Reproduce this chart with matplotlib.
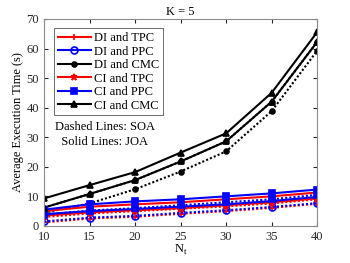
import numpy as np
import matplotlib
matplotlib.use('Agg')
import matplotlib.pyplot as plt

plt.rcParams['font.family'] = 'Liberation Serif'
plt.rcParams['font.size'] = 9

# x values: number of targets
nt = [10, 15, 20, 25, 30, 35, 40]

# JOA (solid lines)
di_tpc_joa = [3.5, 4.6, 5.3, 6.0, 7.0, 8.0, 9.3]
di_ppc_joa = [4.0, 5.0, 5.7, 6.5, 7.3, 8.4, 9.8]
di_cmc_joa = [6.2, 10.8, 15.5, 21.8, 28.6, 42.0, 62.2]
ci_tpc_joa = [5.0, 6.5, 7.3, 8.0, 9.0, 10.0, 11.3]
ci_ppc_joa = [5.5, 7.3, 8.3, 9.0, 10.0, 11.0, 12.3]
ci_cmc_joa = [9.3, 13.8, 18.2, 24.8, 31.3, 45.0, 65.5]

# SOA (dashed lines)
di_tpc_soa = [1.2, 2.5, 3.1, 4.1, 5.0, 6.1, 7.5]
di_ppc_soa = [1.5, 2.8, 3.4, 4.4, 5.3, 6.4, 7.7]
di_cmc_soa = [4.5, 7.6, 12.4, 18.4, 25.2, 38.8, 59.2]
ci_tpc_soa = [3.0, 4.2, 5.0, 5.8, 6.6, 7.6, 9.0]
ci_ppc_soa = [3.8, 5.2, 6.0, 7.0, 8.0, 9.0, 10.5]
ci_cmc_soa = [6.2, 10.8, 15.5, 21.8, 28.6, 42.0, 62.2]

fig = plt.figure(figsize=(3.5, 2.63), dpi=100)
ax = fig.add_axes([0.126, 0.141, 0.78, 0.787])

LW = 1.5
styles = [
    ('DI and TPC', di_tpc_joa, di_tpc_soa, 'r', '+', 'r'),
    ('DI and PPC', di_ppc_joa, di_ppc_soa, 'b', 'o', 'none'),
    ('DI and CMC', di_cmc_joa, di_cmc_soa, 'k', '.', 'k'),
    ('CI and TPC', ci_tpc_joa, ci_tpc_soa, 'r', '*', 'r'),
    ('CI and PPC', ci_ppc_joa, ci_ppc_soa, 'b', 's', 'b'),
    ('CI and CMC', ci_cmc_joa, ci_cmc_soa, 'k', '^', 'k'),
]

for name, joa, soa, c, m, fc in styles:
    ms = 7 if m == '.' else 5
    ax.plot(nt, joa, '-', color=c, marker=m, mfc=fc, mec=c, ms=ms, lw=LW,
            mew=1.2, label=name)
    ax.plot(nt, soa, color=c, marker=m, mfc=fc, mec=c, ms=ms, lw=LW,
            mew=1.2, linestyle=(0, (1, 1)))

ax.set_xlim(10, 40)
ax.set_ylim(0, 70)
ax.set_xticks(nt)
ax.set_yticks(range(0, 71, 10))
ax.tick_params(direction='in', top=True, right=True, length=3,
               colors='#262626', labelsize=9)
for s in ax.spines.values():
    s.set_color('#8c8c8c')
    s.set_linewidth(0.8)

ax.set_xlabel('N$_\\mathregular{t}$', labelpad=0)
ax.set_ylabel('Average Execution Time (s)', labelpad=2)
ax.set_title('K = 5', fontsize=9, pad=3)

leg = ax.legend(loc='upper left', bbox_to_anchor=(0.015, 0.985), fontsize=9,
                handlelength=2.6, handletextpad=0.3, borderpad=0.3,
                labelspacing=0.12, fancybox=False, edgecolor='#555555',
                framealpha=1)
leg.get_frame().set_linewidth(0.6)

ax.text(0.04, 0.44, 'Dashed Lines: SOA\n  Solid Lines: JOA', transform=ax.transAxes,
        fontsize=9, va='center', linespacing=1.3)

fig.savefig('out.png', dpi=100)
